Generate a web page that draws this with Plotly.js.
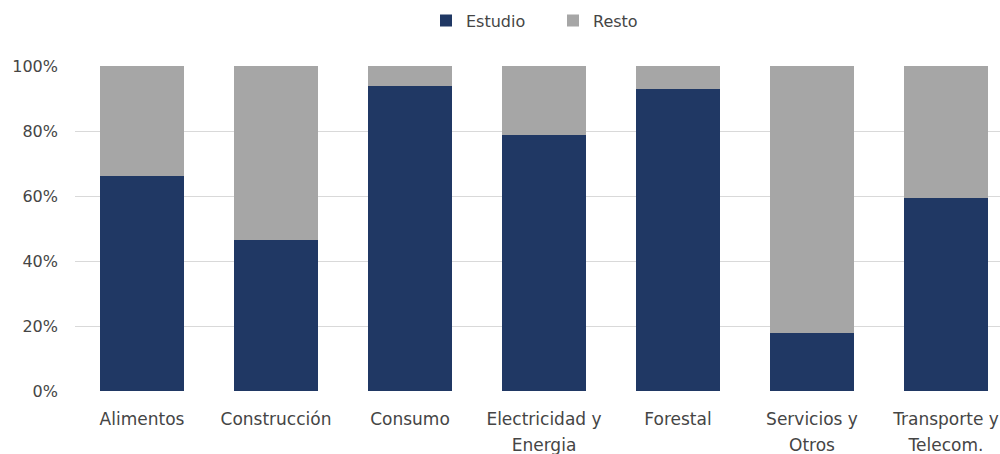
<!DOCTYPE html>
<html><head><meta charset="utf-8">
<script src="https://cdn.plot.ly/plotly-3.0.1.min.js"></script>
<style>html,body{margin:0;padding:0;background:#fff}</style>
</head><body>
<div id="chart" style="width:1000px;height:454px"></div>
<script>
const categories = ["Alimentos","Construcción","Consumo","Electricidad y Energia","Forestal","Servicios y Otros","Transporte y Telecom."];
const labelLine1 = ["Alimentos","Construcción","Consumo","Electricidad y","Forestal","Servicios y","Transporte y"];
const labelLine2 = ["","","","Energia","","Otros","Telecom."];
const estudio = [66.2, 46.6, 93.8, 78.9, 92.8, 17.7, 59.5];
const resto = estudio.map(v => +(100 - v).toFixed(1));
const yTicks = [0, 20, 40, 60, 80, 100];
const yTickLabels = ["0%","20%","40%","60%","80%","100%"];

const fam = "DejaVu Sans, sans-serif";
const col = "#454545";
const idx = categories.map((_, i) => i);
const data = [
  {type: "bar", name: "Estudio", x: idx, y: estudio, marker: {color: "#203864", line: {width: 0}}, width: 0.634},
  {type: "bar", name: "Resto", x: idx, y: resto, marker: {color: "#a6a6a6", line: {width: 0}}, width: 0.634},
  {type: "scatter", x: idx, y: estudio, xaxis: "x2", mode: "none", showlegend: false, hoverinfo: "skip"}
];
const xr = [-0.5, 6.403];
const layout = {
  barmode: "stack",
  width: 1000, height: 454,
  margin: {l: 75, r: 0, t: 66, b: 63},
  paper_bgcolor: "#fff", plot_bgcolor: "#fff",
  font: {family: fam, size: 16, color: col},
  showlegend: true,
  legend: {orientation: "h", xref: "container", x: 0.426, xanchor: "left", yref: "container", y: 0.992, yanchor: "top",
           font: {family: fam, size: 16, color: col}, itemwidth: 30, traceorder: "normal",
           entrywidth: 82, entrywidthmode: "pixels"},
  xaxis: {range: xr, tickmode: "array", tickvals: idx, ticktext: labelLine1,
          showgrid: false, zeroline: false, showline: false, ticks: "", ticklabelstandoff: 16,
          tickfont: {family: fam, size: 17, color: col}, fixedrange: true},
  xaxis2: {range: xr, overlaying: "x", side: "bottom", anchor: "y", tickmode: "array", tickvals: idx, ticktext: labelLine2,
          showgrid: false, zeroline: false, showline: false, ticks: "", ticklabelstandoff: 42,
          tickfont: {family: fam, size: 17, color: col}, fixedrange: true},
  yaxis: {range: [0, 100], tickmode: "array", tickvals: yTicks, ticktext: yTickLabels,
          showgrid: true, gridcolor: "#d9d9d9", gridwidth: 1, zeroline: false, showline: false,
          ticks: "", ticklabelstandoff: 16, tickfont: {family: fam, size: 16, color: col}, fixedrange: true}
};
Plotly.newPlot("chart", data, layout, {displayModeBar: false, staticPlot: true});
</script>
</body></html>
